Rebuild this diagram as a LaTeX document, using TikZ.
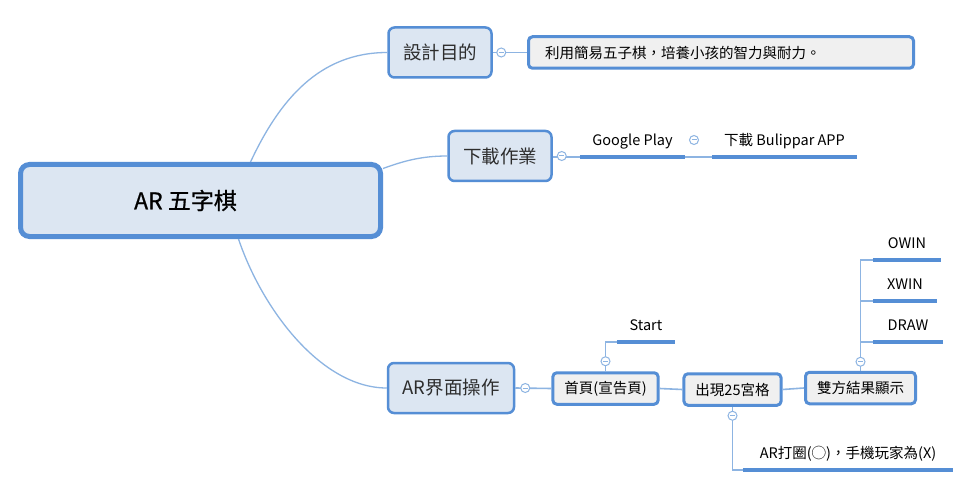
\documentclass[tikz,border=0pt]{standalone}
\usepackage{fontspec}
\setmainfont{Noto Sans CJK TC}
\newfontfamily\rootfont{Noto Sans CJK TC}[FakeBold=0.7]
\usetikzlibrary{positioning}
\definecolor{mapblue}{RGB}{85,142,213}
\definecolor{linkblue}{RGB}{141,180,226}
\definecolor{topicfill}{RGB}{220,230,242}
\definecolor{subfill}{RGB}{240,240,240}
\definecolor{inkgray}{RGB}{45,45,45}

\tikzset{
  rootbox/.style={rectangle, draw=mapblue, line width=5pt, rounded corners=9pt, fill=topicfill, minimum width=360pt, minimum height=72pt},
  roottext/.style={font=\rootfont\fontsize{23}{27}\selectfont, text=black},
  topic/.style={rectangle, draw=mapblue, line width=2.5pt, rounded corners=6pt, fill=topicfill, minimum width=103pt, minimum height=50pt, inner xsep=14.5pt, font=\fontsize{18.5}{22}\selectfont, text=inkgray},
  subbox/.style={rectangle, draw=mapblue, line width=3pt, rounded corners=4pt, fill=subfill, minimum height=31.5pt, inner xsep=11.5pt, font=\fontsize{14.5}{17}\selectfont, text=black},
  leaf/.style={inner xsep=0pt, inner ysep=0pt, text depth=11pt, anchor=south, minimum width=#1, font=\fontsize{14.5}{17}\selectfont, text=black},
  uline/.style={draw=mapblue, line width=3.5pt},
  branch/.style={draw=linkblue, line width=1.3pt},
  link/.style={draw=linkblue, line width=1.6pt},
  fold/.style={circle, draw=linkblue, line width=1pt, fill=white, minimum size=9pt, inner sep=0pt,
    path picture={\draw[linkblue, line width=1pt] ([xshift=-2.5pt]path picture bounding box.center) -- ([xshift=2.5pt]path picture bounding box.center);}},
}

\begin{document}
\begin{tikzpicture}[x=1pt, y=-1pt]
    \useasboundingbox (0,0) rectangle (971,481);
    \fill[white] (0,0) rectangle (971,481);

    % root and main topics
    \node (root) [rootbox, label={[roottext, xshift=-15pt]center:AR 五字棋}] at (200.5,200.5) {};
    \node (aim) [topic] at (440,52.5) {設計目的};
    \node (dl) [topic] at (500,156) {下載作業};
    \node (ar) [topic] at (451,388) {AR界面操作};

    % sub topics
    \node (detail) [subbox, text width=352pt, align=left, inner xsep=16.5pt] at (721,52.5) {利用簡易五子棋，培養小孩的智力與耐力。};
    \node (home) [subbox] at (605.5,388.5) {首頁(宣告頁)};
    \node (grid) [subbox] at (732.5,389.5) {出現25宮格};
    \node (result) [subbox] at (860.5,388) {雙方結果顯示};

    % leaves
    \node (gplay) [leaf=105pt] at (632.5,157) {Google Play};
    \node (bapp) [leaf=145pt] at (784.5,157) {下載 Bulippar APP};
    \node (start) [leaf=58pt] at (646,342) {Start};
    \node (mark) [leaf=210pt] at (848,470) {AR打圈(◯)，手機玩家為(X)};
    \node (owin) [leaf=68pt] at (907,260) {OWIN};
    \node (xwin) [leaf=64pt] at (905,301) {XWIN};
    \node (even) [leaf=70pt] at (908,342) {DRAW};

    \draw[branch] ([xshift=50pt]root.north) .. controls +(29,-62) and +(-68,0) .. (aim.west);
    \draw[branch] ([yshift=32pt]root.east) .. controls +(22,-8) and +(-25,0) .. (dl.west);
    \draw[branch] ([xshift=38pt]root.south) .. controls +(24,71) and +(-65,0) .. (ar.west);

    \draw[link] (aim.east) -- (detail.west);
    \draw[link] (dl.east |- gplay.south west) -- (gplay.south west);
    \draw[link] (gplay.south east) -- (bapp.south west);
    \draw[link] (ar.east) -- (home.west);
    \draw[link] (home.north) |- (start.south west);
    \draw[link] (home.east) -- (grid.west);
    \draw[link] (grid.south) |- (mark.south west);
    \draw[link] (grid.east) -- (result.west);
    \foreach \leafname in {owin,xwin,even}
        \draw[link] (result.north) |- (\leafname.south west);

    \foreach \leafname in {gplay,bapp,start,mark,owin,xwin,even}
        \draw[uline] (\leafname.south west) -- (\leafname.south east);

    % collapse marks
    \node (aimfold) [fold, right=3.5pt of aim] {};
    \node (dlfold) [fold, right=4pt of dl] {};
    \node (gpfold) [fold] at (694,140) {};
    \node (arfold) [fold, right=5pt of ar] {};
    \node (homefold) [fold, above=5pt of home] {};
    \node (gridfold) [fold, below=4pt of grid] {};
    \node (resfold) [fold, above=4pt of result] {};

\end{tikzpicture}
\end{document}
